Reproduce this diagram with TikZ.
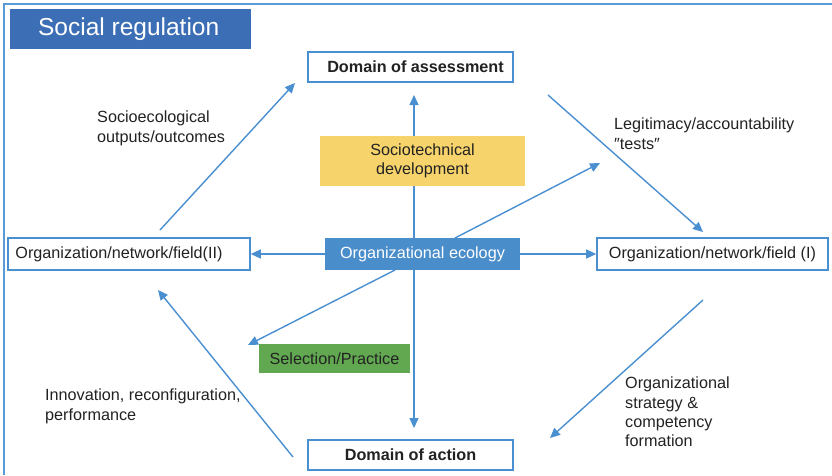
\documentclass[tikz,border=0pt]{standalone}
\usepackage{fontspec}
\setmainfont{Liberation Sans}
\usetikzlibrary{arrows.meta}
\definecolor{frameblue}{HTML}{5B9BD5}
\definecolor{edgeblue}{HTML}{4A8FCF}
\definecolor{titleblue}{HTML}{3C6EB5}
\definecolor{ecoblue}{HTML}{4A8DCB}
\definecolor{socyellow}{HTML}{F7D46B}
\definecolor{selgreen}{HTML}{61A851}
\definecolor{txt}{HTML}{222222}
\newcommand{\fsz}{\fontsize{16.2}{19}\selectfont}
\tikzset{
  wbox/.style={draw=edgeblue, line width=1.6pt, fill=white, inner sep=0pt, text=txt, font=\fsz},
  fbox/.style={inner sep=0pt, font=\fsz, align=center},
  arr/.style={draw=edgeblue, line width=1.4pt, -{Triangle[length=10pt,width=9pt]}},
  lbl/.style={anchor=north west, align=left, inner sep=0pt, text=txt, font=\fontsize{16.2}{19.2}\selectfont}
}
\begin{document}
\begin{tikzpicture}[x=1pt,y=-1pt]
\useasboundingbox (0,0) rectangle (832,475);
% outer frame
\draw[frameblue, line width=1.5pt] (4,475) -- (4,4) -- (832,4);
% title
\node[fill=titleblue, minimum width=241pt, minimum height=40pt, inner sep=0pt, text=white, font=\fontsize{24.5}{28}\selectfont, anchor=north west] (title) at (10,9) {\hspace*{-4pt}Social regulation};
% boxes
\node[fbox, fill=socyellow, minimum width=205pt, minimum height=50pt, text=txt] (soc) at (422.5,161) {Sociotechnical\\development};
\node[fbox, fill=selgreen, minimum width=151pt, minimum height=29pt, text=txt] (sel) at (334.5,358.5) {Selection/Practice};
\node[wbox, minimum width=205pt, minimum height=30pt, font=\bfseries\fsz] (assess) at (410.5,67) {\hspace*{10pt}Domain of assessment};
\node[wbox, minimum width=205pt, minimum height=30pt, font=\bfseries\fsz] (action) at (410.5,455) {Domain of action};
\node[wbox, minimum width=242pt, minimum height=32pt] (orgII) at (129,254) {\hspace*{-20pt}Organization/network/field(II)};
\node[wbox, minimum width=231pt, minimum height=32pt] (orgI) at (712.5,254) {Organization/network/field (I)};
\coordinate (vtop) at (414,95);
\coordinate (vbot) at (414,428);
\node[fbox, fill=ecoblue, minimum width=195pt, minimum height=32pt, text=white] (eco) at (422.5,254) {Organizational ecology};
% connectors from ecology
\draw[arr] (eco.north -| vtop) -- (vtop);
\draw[arr] (eco.south -| vbot) -- (vbot);
\draw[arr] (eco.west) -- (orgII.east);
\draw[arr] (eco.east) -- (orgI.west);
\coordinate (ur0) at (455,238);
\coordinate (ur1) at (600,163);
\draw[arr] (ur0) -- (ur1);
\coordinate (ll0) at (395,270);
\coordinate (ll1) at (248,345);
\draw[arr] (ll0) -- (ll1);
% sociotechnical box drawn over the vertical line
\node[fbox, fill=socyellow, minimum width=205pt, minimum height=50pt, text=txt] at (soc) {Sociotechnical\\development};
% cycle arrows
\coordinate (a0) at (160,230);
\coordinate (a1) at (295,83);
\draw[arr] (a0) -- (a1);
\coordinate (b0) at (548,95);
\coordinate (b1) at (703,232);
\draw[arr] (b0) -- (b1);
\coordinate (c0) at (703,300);
\coordinate (c1) at (550,438);
\draw[arr] (c0) -- (c1);
\coordinate (d0) at (293,457);
\coordinate (d1) at (158,290);
\draw[arr] (d0) -- (d1);
% labels
\node[lbl] (l1) at (97,111) {Socioecological\\outputs/outcomes};
\node[lbl] (l2) at (614,118) {Legitimacy/accountability\\″tests″};
\node[lbl] (l3) at (45,389) {Innovation, reconfiguration,\\performance};
\node[lbl] (l4) at (625,377) {Organizational\\strategy \&\\competency\\formation};
\end{tikzpicture}
\end{document}
